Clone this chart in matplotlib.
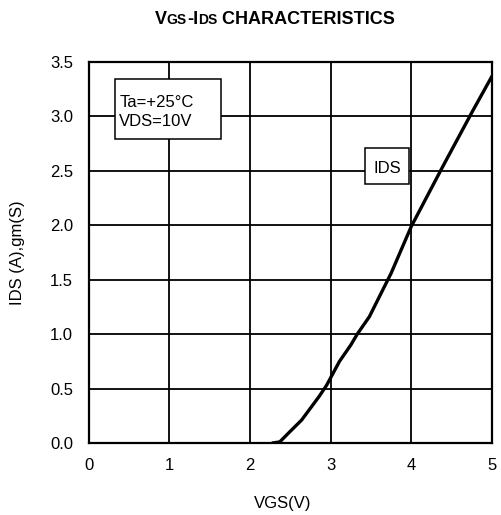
import matplotlib
matplotlib.use("Agg")
import matplotlib.pyplot as plt
from matplotlib.patches import Rectangle

plt.rcParams['font.family'] = ['Liberation Sans', 'DejaVu Sans']

# datos
vgs = [2.28, 2.37, 2.49, 2.64, 2.76, 2.86, 2.95, 3.11, 3.25, 3.33, 3.48,
       3.75, 4.0, 4.39, 4.76, 5.0]
ids = [0.0, 0.01, 0.10, 0.21, 0.33, 0.43, 0.53, 0.75, 0.90, 1.00, 1.16,
       1.56, 1.99, 2.54, 3.05, 3.37]

x_ticks = [0, 1, 2, 3, 4, 5]
y_ticks = [0.0, 0.5, 1.0, 1.5, 2.0, 2.5, 3.0, 3.5]

fig = plt.figure(figsize=(5.02, 5.15), dpi=100)
ax = fig.add_axes([0.1763, 0.1398, 0.8038, 0.7398])

ax.plot(vgs, ids, '-', color='black', lw=2.4, solid_capstyle='round',
        solid_joinstyle='round', zorder=3)

ax.set_xlim(0, 5)
ax.set_ylim(0, 3.5)
ax.set_xticks(x_ticks)
ax.set_yticks(y_ticks)
ax.set_yticklabels([f"{v:.1f}" for v in y_ticks])
ax.tick_params(length=0, labelsize=12, colors='black')
ax.tick_params(axis='x', pad=11)
ax.tick_params(axis='y', pad=11)
ax.grid(color='black', lw=1.3)
for s in ax.spines.values():
    s.set_linewidth(1.6)
    s.set_color('black')

ax.set_xlabel("VGS(V)", fontsize=12, va='center')
ax.xaxis.set_label_coords(0.48, -0.16)
ax.set_ylabel("IDS (A),gm(S)", fontsize=12, va='center')
ax.yaxis.set_label_coords(-0.175, 0.5)

# caja de condiciones
ax.add_patch(Rectangle((0.333, 2.793), 1.31, 0.551, fc='white', ec='black',
                       lw=1.1, zorder=4))
ax.text(0.383, 3.087, "Ta=+25\u00b0C", fontsize=12, va='baseline', ha='left', zorder=5)
ax.text(0.383, 2.912, "VDS=10V", fontsize=12, va='baseline', ha='left', zorder=5)

# etiqueta de la curva
ax.add_patch(Rectangle((3.43, 2.38), 0.545, 0.33, fc='white', ec='black',
                       lw=1.1, zorder=4))
ax.text(3.70, 2.48, "IDS", fontsize=12, va='baseline', ha='center', zorder=5)

# titulo con versalitas
partes = [("V", 13), ("GS", 10), ("-I", 13), ("DS", 10), (" CHARACTERISTICS", 13)]
renderer = fig.canvas.get_renderer()
textos = []
for t, fs in partes:
    textos.append(fig.text(0, 1 - 24 / 515, t, fontsize=fs, fontweight='bold',
                           ha='left', va='baseline'))
anchos = [tx.get_window_extent(renderer).width for tx in textos]
x0 = (275 - sum(anchos) / 2) / 502
for tx, w in zip(textos, anchos):
    tx.set_x(x0)
    x0 += w / 502

fig.savefig("out.png", dpi=100)
